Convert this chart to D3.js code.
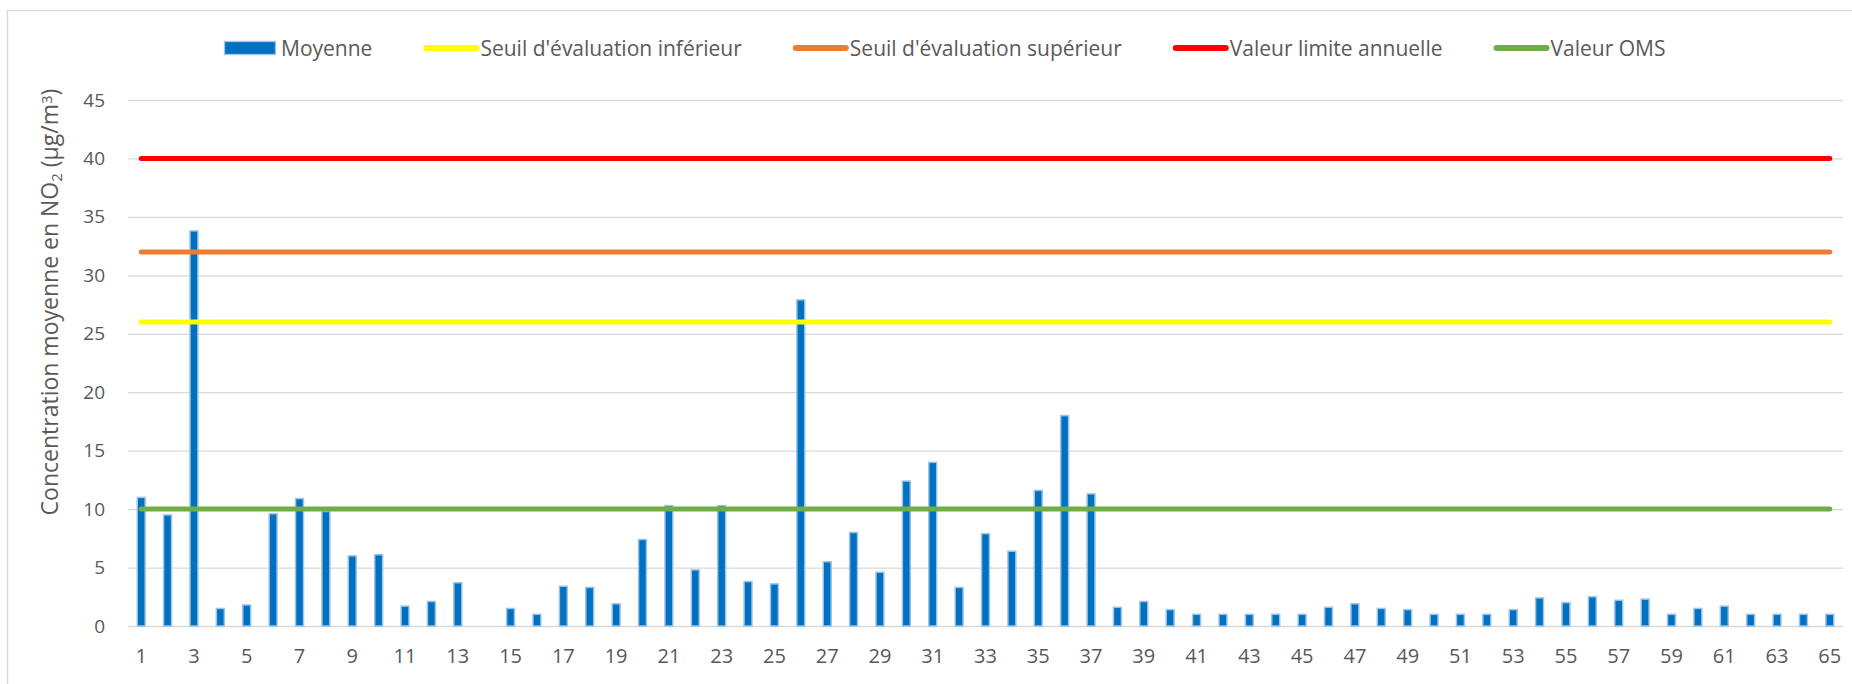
<!DOCTYPE html>
<html>
<head>
<meta charset="utf-8">
<script src="https://cdn.jsdelivr.net/npm/d3@7"></script>
<style>
  html, body { margin: 0; padding: 0; background: #fff; }
  svg { display: block; font-family: "Open Sans", sans-serif; }
</style>
</head>
<body>
<div id="chart"></div>
<script>
// site numbers 1..65 on the x axis
const sites = d3.range(1, 66);

// mean NO2 concentration per site (µg/m3); site 14 has no value
const moyenne = [
  11.0, 9.5, 33.8, 1.5, 1.8, 9.6, 10.9, 9.8, 6.0, 6.1, 1.7, 2.1, 3.7, null,
  1.5, 1.0, 3.4, 3.3, 1.9, 7.4, 10.3, 4.8, 10.3, 3.8, 3.6, 27.9, 5.5, 8.0, 4.6, 12.4, 14.0,
  3.3, 7.9, 6.4, 11.6, 18.0, 11.3,
  1.6, 2.1, 1.4, 1.0, 1.0, 1.0, 1.0, 1.0, 1.6, 1.9, 1.5,
  1.4, 1.0, 1.0, 1.0, 1.4, 2.4, 2.0, 2.5, 2.2, 2.3, 1.0, 1.5, 1.7, 1.0, 1.0, 1.0, 1.0
];

// reference thresholds
const seuilNames = ["Seuil d'évaluation inférieur", "Seuil d'évaluation supérieur", "Valeur limite annuelle", "Valeur OMS"];
const seuilValues = [26, 32, 40, 10];
const seuilColors = ["#FFFF00", "#ED7D31", "#FF0000", "#70AD47"];

const yTicks = [0, 5, 10, 15, 20, 25, 30, 35, 40, 45];

const width = 1852;
const height = 684;
const plot = { left: 128, right: 1843, top: 100, bottom: 626 };
const textColor = "#595959";

const svg = d3.select("#chart")
  .append("svg")
  .attr("width", width)
  .attr("height", height);

// chart frame
svg.append("rect")
  .attr("x", 7.5)
  .attr("y", 10.5)
  .attr("width", width)
  .attr("height", height)
  .attr("fill", "none")
  .attr("stroke", "#d9d9d9")
  .attr("stroke-width", 1.3);

const x = d3.scaleBand()
  .domain(sites)
  .range([plot.left, plot.right])
  .paddingInner(0.7)
  .paddingOuter(0.35);

const y = d3.scaleLinear()
  .domain([0, 45])
  .range([plot.bottom, plot.top]);

const xc = (d) => x(d) + x.bandwidth() / 2;

// gridlines + y labels
const yAxis = svg.append("g")
  .attr("transform", `translate(${plot.left},0)`)
  .call(d3.axisLeft(y).tickValues(yTicks).tickSize(-(plot.right - plot.left)).tickPadding(23));
yAxis.select(".domain").remove();
yAxis.selectAll(".tick line").attr("stroke", "#d9d9d9").attr("stroke-width", 1.3);
yAxis.selectAll(".tick text")
  .attr("fill", textColor)
  .style("font-size", "19px")
  .style("font-family", "Open Sans");

// x labels, odd sites only
const xAxis = svg.append("g")
  .attr("transform", `translate(0,${plot.bottom})`)
  .call(d3.axisBottom(x).tickValues(sites.filter((d) => d % 2 === 1)).tickSize(0).tickPadding(23));
xAxis.select(".domain").remove();
xAxis.selectAll(".tick text")
  .attr("fill", textColor)
  .style("font-size", "20px")
  .style("font-family", "Open Sans");

// bars
const barData = sites.map((s, i) => ({ site: s, value: moyenne[i] })).filter((d) => d.value != null);
svg.append("g")
  .selectAll("rect")
  .data(barData)
  .join("rect")
  .attr("x", (d) => x(d.site))
  .attr("y", (d) => y(d.value))
  .attr("width", x.bandwidth())
  .attr("height", (d) => y(0) - y(d.value))
  .attr("fill", "#0070C0")
  .attr("stroke", "#9DC3E6")
  .attr("stroke-width", 1.5);

// threshold lines, drawn over the bars
const seuils = seuilNames.map((name, i) => ({ name, value: seuilValues[i], color: seuilColors[i] }));
svg.append("g")
  .selectAll("line")
  .data(seuils)
  .join("line")
  .attr("x1", xc(sites[0]))
  .attr("x2", xc(sites[sites.length - 1]))
  .attr("y1", (d) => y(d.value))
  .attr("y2", (d) => y(d.value))
  .attr("stroke", (d) => d.color)
  .attr("stroke-width", 5)
  .attr("stroke-linecap", "round");

// y title with subscript / superscript
const title = svg.append("text")
  .attr("transform", "translate(58,302) rotate(-90)")
  .attr("text-anchor", "middle")
  .attr("fill", textColor)
  .style("font-size", "23px");
title.append("tspan").text("Concentration moyenne en NO");
title.append("tspan").attr("baseline-shift", "-25%").style("font-size", "15px").text("2");
title.append("tspan").text(" (µg/m");
title.append("tspan").attr("baseline-shift", "40%").style("font-size", "15px").text("3");
title.append("tspan").text(")");

// legend: bar swatch first, then the four threshold lines
const legendItems = [{ name: "Moyenne", type: "bar", color: "#0070C0" }]
  .concat(seuils.map((d) => ({ name: d.name, type: "line", color: d.color })));

const legend = svg.append("g");
const ly = 48;
let lx = 224;
legendItems.forEach((d) => {
  const g = legend.append("g").attr("transform", `translate(${lx},0)`);
  if (d.type === "bar") {
    g.append("rect")
      .attr("x", 0.5).attr("y", ly - 6.5)
      .attr("width", 51).attr("height", 13)
      .attr("fill", d.color)
      .attr("stroke", "#9DC3E6")
      .attr("stroke-width", 1.3);
  } else {
    g.append("line")
      .attr("x1", 3).attr("x2", 53)
      .attr("y1", ly).attr("y2", ly)
      .attr("stroke", d.color)
      .attr("stroke-width", 6)
      .attr("stroke-linecap", "round");
  }
  const t = g.append("text")
    .attr("x", 57)
    .attr("y", ly)
    .attr("dy", "0.36em")
    .attr("fill", textColor)
    .style("font-size", "21px")
    .text(d.name);
  lx += 57 + t.node().getComputedTextLength() + 51;
});
</script>
</body>
</html>
